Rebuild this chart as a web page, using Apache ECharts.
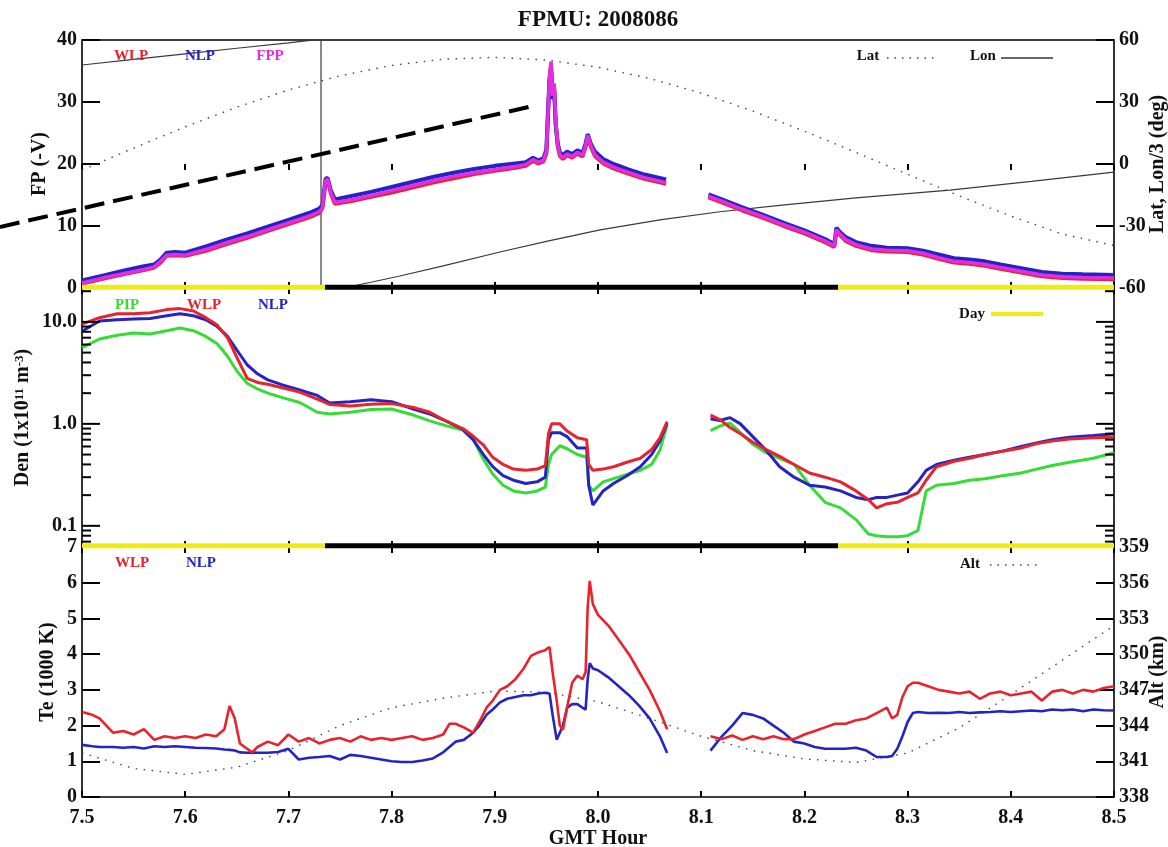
<!DOCTYPE html>
<html><head><meta charset="utf-8">
<script src="https://cdn.jsdelivr.net/npm/echarts@6/dist/echarts.min.js"></script>
<style>html,body{margin:0;padding:0;background:#fff}#c{width:1168px;height:847px}</style>
</head><body><div id="c"></div>
<script>
// ---------------- DATA ----------------
const X_TICKS = [7.5, 7.6, 7.7, 7.8, 7.9, 8.0, 8.1, 8.2, 8.3, 8.4, 8.5];

// Floating potential panel
const FP_HOURS = [7.500,7.520,7.540,7.560,7.570,7.576,7.582,7.590,7.600,7.620,
  7.640,7.660,7.680,7.700,7.720,7.730,7.733,7.736,7.738,7.741,
  7.745,7.760,7.780,7.800,7.820,7.840,7.860,7.880,7.900,7.920,
  7.930,7.937,7.942,7.947,7.950,7.9515,7.953,7.9545,7.956,7.9575,
  7.959,7.961,7.963,7.966,7.970,7.975,7.980,7.985,7.988,7.990,
  7.993,7.997,8.005,8.015,8.030,8.045,8.066,8.086,8.107,8.120,
  8.140,8.160,8.180,8.200,8.220,8.229,8.231,8.234,8.240,8.250,
  8.265,8.280,8.300,8.315,8.330,8.345,8.360,8.375,8.390,8.410,
  8.430,8.450,8.470,8.500];
const FP_FPP = [0.8,1.6,2.3,3.0,3.4,4.3,5.3,5.4,5.3,6.2,
  7.3,8.3,9.4,10.5,11.6,12.3,13.0,17.3,17.6,15.5,
  13.8,14.2,14.9,15.7,16.5,17.3,18.0,18.6,19.1,19.6,
  19.9,20.7,20.3,20.6,22.0,28.0,34.0,36.5,31.0,33.0,
  27.0,23.0,21.5,21.0,21.6,21.2,21.9,21.4,23.0,24.6,
  23.0,21.5,20.3,19.5,18.6,17.8,17.0,null,14.8,14.0,
  12.7,11.5,10.2,9.0,7.6,6.8,9.4,8.8,7.8,7.0,
  6.3,6.1,6.0,5.6,4.9,4.3,4.1,3.8,3.3,2.7,
  2.1,1.8,1.7,1.6];
const FP_NLP = [1.2,2.0,2.8,3.5,3.8,4.6,5.7,5.8,5.7,6.7,
  7.8,8.8,9.9,11.0,12.1,12.8,13.4,17.6,17.8,15.8,
  14.3,14.8,15.5,16.3,17.1,17.9,18.6,19.2,19.7,20.1,
  20.3,21.0,20.6,20.9,22.3,28.5,33.5,35.5,30.5,32.0,
  26.5,23.3,21.9,21.4,22.0,21.6,22.2,21.8,23.3,24.8,
  23.3,22.0,20.8,20.0,19.1,18.3,17.5,null,15.1,14.3,
  13.0,11.8,10.5,9.3,7.9,7.1,9.7,9.1,8.2,7.4,
  6.8,6.5,6.4,6.0,5.4,4.8,4.6,4.3,3.8,3.2,
  2.6,2.3,2.2,2.1];
const FP_WLP = [0.7,1.5,2.2,2.9,3.3,4.1,5.2,5.3,5.2,6.0,
  7.1,8.1,9.2,10.3,11.4,12.1,12.9,17.1,17.4,15.3,
  13.6,14.0,14.7,15.4,16.2,17.0,17.7,18.4,18.9,19.4,
  19.7,20.5,20.1,20.4,21.7,27.5,33.5,36.0,30.5,32.5,
  26.5,22.8,21.3,20.8,21.4,21.0,21.7,21.2,22.8,24.4,
  22.8,21.3,20.1,19.3,18.4,17.6,16.8,null,14.6,13.8,
  12.5,11.3,10.0,8.8,7.4,6.6,9.2,8.6,7.6,6.8,
  6.1,5.9,5.8,5.4,4.7,4.1,3.9,3.6,3.1,2.5,
  1.9,1.6,1.5,1.4];

// Orbit: latitude and longitude/3 (deg)
const LAT_HOURS = [7.50,7.55,7.60,7.65,7.70,7.75,7.80,7.85,7.90,7.95,8.00,8.05,8.10,8.15,8.20,8.25,8.30,8.35,8.40,8.45,8.50];
const LAT_VALS = [-2.9,7.7,18.0,27.5,35.8,42.7,47.7,50.7,51.6,50.3,46.8,41.4,34.3,25.6,15.9,5.6,-5.0,-15.4,-25.2,-33.9,-39.5];
const LON_HOURS = [7.5,7.55,7.6,7.65,7.7,7.7316,7.7316,7.753,7.78,7.808,7.85,7.905,7.95,8.002,8.06,8.118,8.176,8.25,8.341,8.42,8.5];
const LON_VALS = [47.9,50.6,53.3,56.0,58.6,60.4,-61.5,-60.0,-57.2,-54.2,-49.3,-42.6,-37.4,-31.9,-27.0,-23.1,-20.0,-16.4,-12.6,-8.4,-3.9];

// Day / night segments
const DAY_NIGHT = [
  {from: 7.5, to: 7.7355, day: true},
  {from: 7.7355, to: 8.2326, day: false},
  {from: 8.2326, to: 8.5, day: true}
];

// Density panel (1e11 m^-3)
const DEN_HOURS = [7.500,7.517,7.534,7.550,7.566,7.582,7.595,7.608,7.620,7.631,
  7.641,7.650,7.660,7.670,7.680,7.695,7.711,7.728,7.740,7.760,
  7.780,7.800,7.821,7.837,7.854,7.869,7.879,7.889,7.898,7.908,
  7.918,7.930,7.941,7.949,7.952,7.955,7.963,7.970,7.980,7.989,
  7.991,7.995,8.005,8.015,8.028,8.041,8.052,8.060,8.067,8.088,
  8.109,8.118,8.128,8.138,8.150,8.163,8.176,8.190,8.205,8.220,
  8.235,8.250,8.262,8.270,8.280,8.290,8.300,8.310,8.318,8.328,
  8.345,8.360,8.375,8.392,8.410,8.425,8.440,8.457,8.480,8.500];
const DEN_WLP = [9.5,11.0,12.0,12.0,12.3,13.2,13.5,12.8,11.0,9.3,
  7.0,4.5,2.8,2.55,2.45,2.25,2.05,1.75,1.55,1.50,
  1.56,1.58,1.45,1.30,1.05,0.90,0.76,0.62,0.47,0.40,
  0.36,0.35,0.36,0.39,0.80,1.0,1.0,0.85,0.73,0.70,
  0.40,0.35,0.36,0.38,0.42,0.46,0.56,0.73,1.05,null,
  1.22,1.10,0.92,0.80,0.66,0.56,0.48,0.40,0.33,0.30,
  0.27,0.22,0.18,0.15,0.165,0.17,0.19,0.21,0.28,0.38,
  0.43,0.46,0.50,0.54,0.58,0.64,0.68,0.71,0.73,0.74];
const DEN_NLP = [8.1,10.2,10.5,10.7,10.8,11.5,12.0,11.5,10.5,9.0,
  7.2,5.3,3.8,3.1,2.7,2.4,2.15,1.9,1.6,1.65,
  1.72,1.65,1.40,1.25,1.05,0.88,0.70,0.50,0.38,0.31,
  0.28,0.26,0.27,0.30,0.70,0.82,0.82,0.75,0.58,0.58,
  0.25,0.16,0.22,0.26,0.31,0.38,0.50,0.68,1.02,null,
  1.12,1.08,1.15,1.0,0.75,0.55,0.38,0.30,0.25,0.24,
  0.22,0.19,0.18,0.19,0.19,0.20,0.21,0.27,0.35,0.40,
  0.44,0.47,0.50,0.54,0.60,0.65,0.70,0.74,0.77,0.80];
const DEN_PIP = [5.6,6.8,7.4,7.8,7.6,8.2,8.7,8.2,7.2,6.1,
  4.6,3.3,2.5,2.2,2.0,1.8,1.62,1.3,1.25,1.3,
  1.38,1.40,1.22,1.07,0.95,0.87,0.70,0.45,0.32,0.25,
  0.22,0.21,0.22,0.24,0.40,0.50,0.61,0.57,0.50,0.47,
  0.25,0.22,0.27,0.29,0.32,0.35,0.40,0.55,0.98,null,
  0.86,0.95,1.02,0.82,0.63,0.52,0.46,0.40,0.25,0.17,
  0.15,0.115,0.083,0.080,0.078,0.078,0.080,0.090,0.22,0.25,
  0.26,0.28,0.29,0.31,0.33,0.36,0.39,0.42,0.46,0.52];
const DEN_MAJOR_TICKS = [0.1, 1, 10];
const DEN_MINOR_TICKS = [0.07,0.08,0.09,0.2,0.3,0.4,0.5,0.6,0.7,0.8,0.9,2,3,4,5,6,7,8,9,20];

// Electron temperature panel (1000 K)
const TE_HOURS = [7.500,7.510,7.517,7.530,7.540,7.550,7.560,7.570,7.580,7.590,
  7.600,7.610,7.620,7.630,7.638,7.643,7.648,7.653,7.660,7.665,
  7.670,7.680,7.690,7.700,7.710,7.720,7.730,7.740,7.750,7.760,
  7.770,7.780,7.790,7.800,7.810,7.820,7.830,7.840,7.850,7.856,
  7.862,7.870,7.879,7.885,7.892,7.898,7.905,7.912,7.920,7.928,
  7.935,7.942,7.948,7.953,7.956,7.960,7.963,7.966,7.970,7.975,
  7.980,7.985,7.988,7.990,7.992,7.995,8.000,8.010,8.020,8.030,
  8.040,8.050,8.060,8.067,8.088,8.109,8.120,8.130,8.140,8.150,
  8.160,8.170,8.180,8.190,8.200,8.210,8.220,8.230,8.240,8.250,
  8.260,8.270,8.280,8.285,8.290,8.295,8.300,8.305,8.310,8.320,
  8.330,8.340,8.350,8.360,8.370,8.380,8.390,8.400,8.410,8.420,
  8.430,8.440,8.450,8.460,8.470,8.480,8.490,8.500];
const TE_WLP = [2.38,2.30,2.20,1.80,1.85,1.75,1.90,1.60,1.70,1.65,
  1.70,1.65,1.75,1.70,1.90,2.55,2.20,1.50,1.35,1.25,
  1.40,1.55,1.45,1.75,1.55,1.65,1.50,1.60,1.65,1.55,
  1.70,1.60,1.65,1.60,1.65,1.70,1.60,1.65,1.75,2.05,
  2.05,1.95,1.80,2.10,2.50,2.70,3.00,3.10,3.30,3.60,
  3.95,4.05,4.10,4.20,3.50,2.70,2.00,1.88,2.50,3.20,
  3.40,3.30,3.50,5.30,6.05,5.40,5.10,4.80,4.40,4.00,
  3.50,3.00,2.40,1.90,null,1.70,1.62,1.72,1.60,1.70,
  1.62,1.70,1.62,1.62,1.75,1.85,1.95,2.05,2.05,2.15,
  2.20,2.35,2.50,2.20,2.30,2.80,3.10,3.20,3.20,3.10,
  3.00,2.95,2.90,2.95,2.75,2.90,2.95,2.85,2.90,2.95,
  2.70,2.95,3.00,2.90,3.00,2.95,3.05,3.10];
const TE_NLP = [1.46,1.42,1.40,1.40,1.38,1.40,1.36,1.42,1.40,1.42,
  1.40,1.38,1.37,1.36,1.33,1.32,1.30,1.25,1.24,1.25,
  1.24,1.24,1.26,1.35,1.05,1.10,1.12,1.15,1.05,1.18,
  1.15,1.10,1.05,1.00,0.98,0.98,1.02,1.08,1.25,1.40,
  1.55,1.60,1.80,2.00,2.30,2.45,2.65,2.75,2.80,2.85,
  2.85,2.90,2.92,2.90,2.30,1.60,1.80,2.00,2.50,2.60,
  2.60,2.50,2.45,3.30,3.75,3.60,3.55,3.35,3.10,2.85,
  2.55,2.20,1.70,1.23,null,1.30,1.70,2.00,2.35,2.30,
  2.20,2.00,1.80,1.55,1.50,1.40,1.35,1.35,1.35,1.38,
  1.30,1.12,1.12,1.15,1.35,1.70,2.10,2.35,2.38,2.35,
  2.36,2.35,2.38,2.35,2.37,2.38,2.40,2.38,2.40,2.42,
  2.40,2.45,2.43,2.45,2.40,2.45,2.43,2.42];
const ALT_HOURS = [7.50,7.55,7.60,7.65,7.70,7.75,7.80,7.85,7.90,7.95,8.00,8.05,8.10,8.15,8.20,8.25,8.30,8.35,8.40,8.45,8.50];
const ALT_KM = [341.7,340.4,339.9,340.5,341.9,344.0,345.5,346.3,346.9,346.8,346.0,344.6,343.1,341.9,341.2,340.9,341.7,343.8,346.6,349.5,352.4];

// Annotation (dashed black line on top panel), in data coordinates [hour, FP]
const ANNOT_FROM = [7.4205, 9.84];
const ANNOT_TO = [7.937, 29.35];

// ---------------- CHART ----------------
const FONT = '"Liberation Serif","Times New Roman",serif';
const RED = '#e8232b', BLUE = '#2424c4', MAG = '#e42ce0', GREEN = '#36dc36', YELLOW = '#efec12', GREYLINE = '#3a3a3a';
const pairs = (xs, ys) => xs.map((x, i) => [x, ys[i]]);
const chart = echarts.init(document.getElementById('c'), null, {renderer: 'canvas'});

const GRIDS = [
  {left: 82, top: 40, width: 1032, height: 248},
  {left: 82, top: 288, width: 1032, height: 259},
  {left: 82, top: 547, width: 1032, height: 250}
];
const labelStyle = {fontFamily: FONT, fontWeight: 'bold', fontSize: 20, color: '#111'};
const nameStyle = {fontFamily: FONT, fontWeight: 'bold', fontSize: 20, color: '#111'};

function xAx(gi, pos, labels) {
  return {
    type: 'value', gridIndex: gi, position: pos, min: 7.5, max: 8.5, interval: 0.1,
    axisLine: {show: false},
    axisTick: {show: true, inside: true, length: 6, lineStyle: {color: '#000', width: 2}},
    splitLine: {show: false},
    axisLabel: labels ? Object.assign({show: true, margin: 11, formatter: v => v.toFixed(1)}, labelStyle) : {show: false},
    name: labels ? 'GMT Hour' : '', nameLocation: 'middle', nameGap: 32, nameMoveOverlap: false, nameTextStyle: nameStyle
  };
}
const xAxes = [xAx(0,'bottom',false), xAx(0,'top',false), xAx(1,'bottom',false), xAx(1,'top',false), xAx(2,'bottom',true), xAx(2,'top',false)];

function yAx(gi, pos, min, max, interval, name, gap) {
  return {
    type: 'value', gridIndex: gi, position: pos, min, max, interval,
    axisLine: {show: false},
    axisTick: {show: true, inside: true, length: 18, lineStyle: {color: '#000', width: 2}},
    splitLine: {show: false},
    axisLabel: Object.assign({show: true, margin: 5}, labelStyle),
    name, nameLocation: 'middle', nameRotate: 90, nameGap: gap, nameMoveOverlap: false, nameTextStyle: nameStyle
  };
}
const yAxes = [
  yAx(0, 'left', 0, 40, 10, 'FP (-V)', 32),
  yAx(0, 'right', -60, 60, 30, 'Lat, Lon/3 (deg)', 34),
  {
    type: 'log', logBase: 10, gridIndex: 1, position: 'left', min: 0.062, max: 21.5,
    axisLine: {show: false}, axisTick: {show: false}, splitLine: {show: false}, minorTick: {show: false},
    axisLabel: Object.assign({show: true, margin: 5, showMinLabel: false, showMaxLabel: false,
      formatter: v => {
        const l = Math.log10(v);
        if (Math.abs(l - Math.round(l)) < 1e-6) return Math.pow(10, Math.round(l)).toFixed(1);
        return '';
      }}, labelStyle),
    name: 'Den (1x10{sup|11} m{sup|-3})', nameLocation: 'middle', nameRotate: 90, nameGap: 49, nameMoveOverlap: false,
    nameTextStyle: Object.assign({}, nameStyle, {rich: {sup: {fontFamily: FONT, fontWeight: 'bold', fontSize: 13, verticalAlign: 'top', lineHeight: 12, color: '#111', padding: [0,0,8,0]}}})
  },
  yAx(2, 'left', 0, 7, 1, 'Te (1000 K)', 24),
  yAx(2, 'right', 338, 359, 3, 'Alt (km)', 34)
];

function lineSeries(name, xi, yi, data, color, width, z, extra) {
  return Object.assign({
    name, type: 'line', xAxisIndex: xi, yAxisIndex: yi, data,
    showSymbol: false, symbol: 'none', connectNulls: false, animation: false,
    lineStyle: {color, width}, z
  }, extra || {});
}

const series = [];
// top panel
series.push(lineSeries('Lat', 0, 1, pairs(LAT_HOURS, LAT_VALS), GREYLINE, 1.3, 2, {lineStyle: {color: '#444', width: 1.4, type: [1.5, 6.5]}}));
series.push(lineSeries('Lon', 0, 1, pairs(LON_HOURS, LON_VALS), GREYLINE, 1.2, 2));
series.push(lineSeries('WLP', 0, 0, pairs(FP_HOURS, FP_WLP), RED, 4, 3));
series.push(lineSeries('NLP', 0, 0, pairs(FP_HOURS, FP_NLP), BLUE, 4, 4));
series.push(lineSeries('FPP', 0, 0, pairs(FP_HOURS, FP_FPP), MAG, 3.5, 5));
// middle panel
series.push(lineSeries('PIP', 2, 2, pairs(DEN_HOURS, DEN_PIP), GREEN, 3, 3));
series.push(lineSeries('NLP', 2, 2, pairs(DEN_HOURS, DEN_NLP), BLUE, 3, 4));
series.push(lineSeries('WLP', 2, 2, pairs(DEN_HOURS, DEN_WLP), RED, 3, 5));
// bottom panel
series.push(lineSeries('Alt', 4, 4, pairs(ALT_HOURS, ALT_KM), '#444', 1.4, 2, {lineStyle: {color: '#444', width: 1.4, type: [1.5, 6.5]}}));
series.push(lineSeries('NLP', 4, 3, pairs(TE_HOURS, TE_NLP), BLUE, 2.6, 3));
series.push(lineSeries('WLP', 4, 3, pairs(TE_HOURS, TE_WLP), RED, 2.6, 4));

// day / night bars at the bottom of top and middle panels
const BAR_Y_TOP = 0.12, BAR_Y_MID = 0.0637;
DAY_NIGHT.forEach(s => {
  const col = s.day ? YELLOW : '#000';
  series.push(lineSeries('bar', 0, 0, [[s.from, BAR_Y_TOP], [s.to, BAR_Y_TOP]], col, 5, 6, {clip: false}));
  series.push(lineSeries('bar', 2, 2, [[s.from, BAR_Y_MID], [s.to, BAR_Y_MID]], col, 5, 6, {clip: false}));
});

// log-axis ticks (left and right) for density panel
const denTickData = DEN_MAJOR_TICKS.map(v => [8.0, v, 1]).concat(DEN_MINOR_TICKS.map(v => [8.0, v, 0]));
series.push({
  type: 'custom', xAxisIndex: 2, yAxisIndex: 2, data: denTickData, z: 7, animation: false, silent: true,
  encode: {x: 0, y: 1},
  renderItem: (params, api) => {
    const v = api.value(1);
    const len = api.value(2) ? 18 : 9;
    const l = api.coord([7.5, v]);
    const r = api.coord([8.5, v]);
    return {type: 'group', children: [
      {type: 'line', shape: {x1: l[0], y1: l[1], x2: l[0] + len, y2: l[1]}, style: {stroke: '#000', lineWidth: 2}},
      {type: 'line', shape: {x1: r[0], y1: r[1], x2: r[0] - len, y2: r[1]}, style: {stroke: '#000', lineWidth: 2}}
    ]};
  }
});

function txt(x, y, text, color, size) {
  return {type: 'text', x, y, z: 20, style: {text, fill: color, font: 'bold ' + (size || 15) + 'px ' + FONT,
    textAlign: 'center', textVerticalAlign: 'middle', align: 'center', verticalAlign: 'middle'}};
}
function lgLine(x1, x2, y, color, width, dash) {
  return {type: 'line', z: 20, shape: {x1, y1: y, x2, y2: y}, style: {stroke: color, lineWidth: width, lineDash: dash || null}};
}
const graphics = [
  txt(598, 20, 'FPMU: 2008086', '#111', 23),
  txt(131, 56, 'WLP', RED), txt(200, 56, 'NLP', BLUE), txt(270, 56, 'FPP', MAG),
  txt(868, 56, 'Lat', '#111'), lgLine(887, 936, 58, '#444', 1.5, [1.5, 6]),
  txt(983, 56, 'Lon', '#111'), lgLine(1001, 1053, 58, '#333', 1.3),
  txt(127, 305, 'PIP', GREEN), txt(204, 305, 'WLP', RED), txt(273, 305, 'NLP', BLUE),
  txt(972, 314, 'Day', '#111'), lgLine(991, 1043, 314, YELLOW, 4),
  txt(132, 563, 'WLP', RED), txt(201, 563, 'NLP', BLUE),
  txt(970, 564, 'Alt', '#111'), lgLine(990, 1038, 565, '#444', 1.5, [1.5, 6])
];

chart.setOption({
  animation: false,
  backgroundColor: '#fff',
  grid: GRIDS.map(g => Object.assign({show: true, borderColor: '#000', borderWidth: 1.6, backgroundColor: 'transparent', containLabel: false, outerBoundsMode: 'none'}, g)),
  xAxis: xAxes,
  yAxis: yAxes,
  series,
  graphic: graphics
});

// dashed annotation line, placed through the top panel's scales
const p1 = chart.convertToPixel({xAxisIndex: 0, yAxisIndex: 0}, ANNOT_FROM);
const p2 = chart.convertToPixel({xAxisIndex: 0, yAxisIndex: 0}, ANNOT_TO);
chart.setOption({graphic: graphics.concat([{type: 'line', z: 30, shape: {x1: p1[0], y1: p1[1], x2: p2[0], y2: p2[1]},
  style: {stroke: '#000', lineWidth: 4, lineDash: [20, 9]}}])});
</script>
</body></html>
